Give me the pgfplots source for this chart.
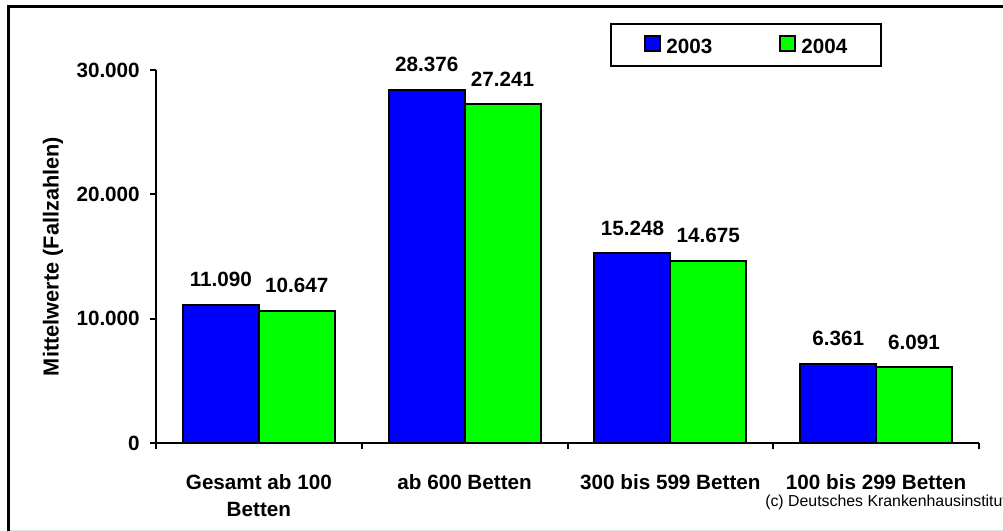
\documentclass[border=0pt]{standalone}
\usepackage{fontspec}
\setmainfont{Liberation Sans}
\usepackage{pgfplots}
\pgfplotsset{compat=1.18}

\definecolor{barA}{RGB}{0,0,255}
\definecolor{barB}{RGB}{0,255,0}

\newcommand{\bigbold}{\bfseries\fontsize{15.5}{20.25}\selectfont}

\pgfplotsset{
  sqlegend/.style={
    legend image code/.code={
      \draw[##1, line width=1.5pt, draw=black] (0pt,-3.1pt) rectangle (11.25pt,8.15pt);
    }
  }
}

\begin{document}
\begin{tikzpicture}
\useasboundingbox (0,0) rectangle (752.25pt,398.25pt);
\fill[white] (0,0) rectangle (752.25pt,398.25pt);
% outer frame
\draw[black!12, line width=0.75pt] (6.4pt,0.6pt) -- (752.25pt,0.6pt);
\draw[black, line width=2pt] (6.4pt,0) -- (6.4pt,393.4pt) -- (760pt,393.4pt);

\begin{axis}[
  at={(117pt,66pt)}, anchor=south west,
  width=617.25pt, height=279.75pt, scale only axis,
  xmin=-0.5, xmax=3.5, ymin=0, ymax=30000,
  axis x line*=bottom, axis y line*=left,
  axis line style={line width=1.5pt, -},
  clip=false,
  xtick={0,1,2,3},
  xticklabels={{Gesamt ab 100\\Betten},{ab 600 Betten},{300 bis 599 Betten},{100 bis 299 Betten}},
  major x tick style={draw=none},
  minor xtick={-0.5,0.5,1.5,2.5,3.5},
  ytick={0,10000,20000,30000},
  tick align=outside,
  xtick pos=bottom, ytick pos=left,
  major tick length=4.5pt, minor tick length=4.5pt,
  tick style={black, line width=1.5pt},
  scaled y ticks=false,
  tick label style={font=\bigbold},
  xticklabel style={align=center, anchor=north, inner sep=0pt, yshift=-18.75pt},
  yticklabel style={anchor=east, inner sep=0pt, xshift=-7.5pt},
  ylabel={Mittelwerte (Fallzahlen)},
  ylabel style={at={(axis description cs:-0.1252,0.5)}, anchor=center,
    font=\bfseries\fontsize{16.3}{19}\selectfont},
  ybar, bar width=0.369,
  nodes near coords,
  nodes near coords style={font=\bigbold, anchor=south, inner sep=0pt, yshift=12.75pt},
  legend columns=2,
  legend style={
    at={(axis description cs:0.5516,1.1268)}, anchor=north west,
    draw=black, line width=1.5pt, font=\bigbold,
    inner xsep=25pt, inner ysep=8.5pt,
    nodes={inner sep=0pt, font=\bigbold},
    /tikz/every odd column/.append style={column sep=3.75pt},
    /tikz/every even column/.append style={column sep=50.25pt},
  },
  /pgf/number format/.cd, fixed, precision=0, 1000 sep={.}, assume math mode=true,
]
\addplot[fill=barA, draw=black, line width=1.5pt, bar shift=-0.1845, sqlegend]
  coordinates {(0,11090) (1,28376) (2,15248) (3,6361)};
\addplot[fill=barB, draw=black, line width=1.5pt, bar shift=0.1845, sqlegend]
  coordinates {(0,10647) (1,27241) (2,14675) (3,6091)};
\legend{2003,2004}
\end{axis}

\node[anchor=base west, inner sep=0pt, font=\fontsize{11.9}{14}\selectfont]
  at (573.75pt,18pt) {(c) Deutsches Krankenhausinstitut};
\end{tikzpicture}
\end{document}
